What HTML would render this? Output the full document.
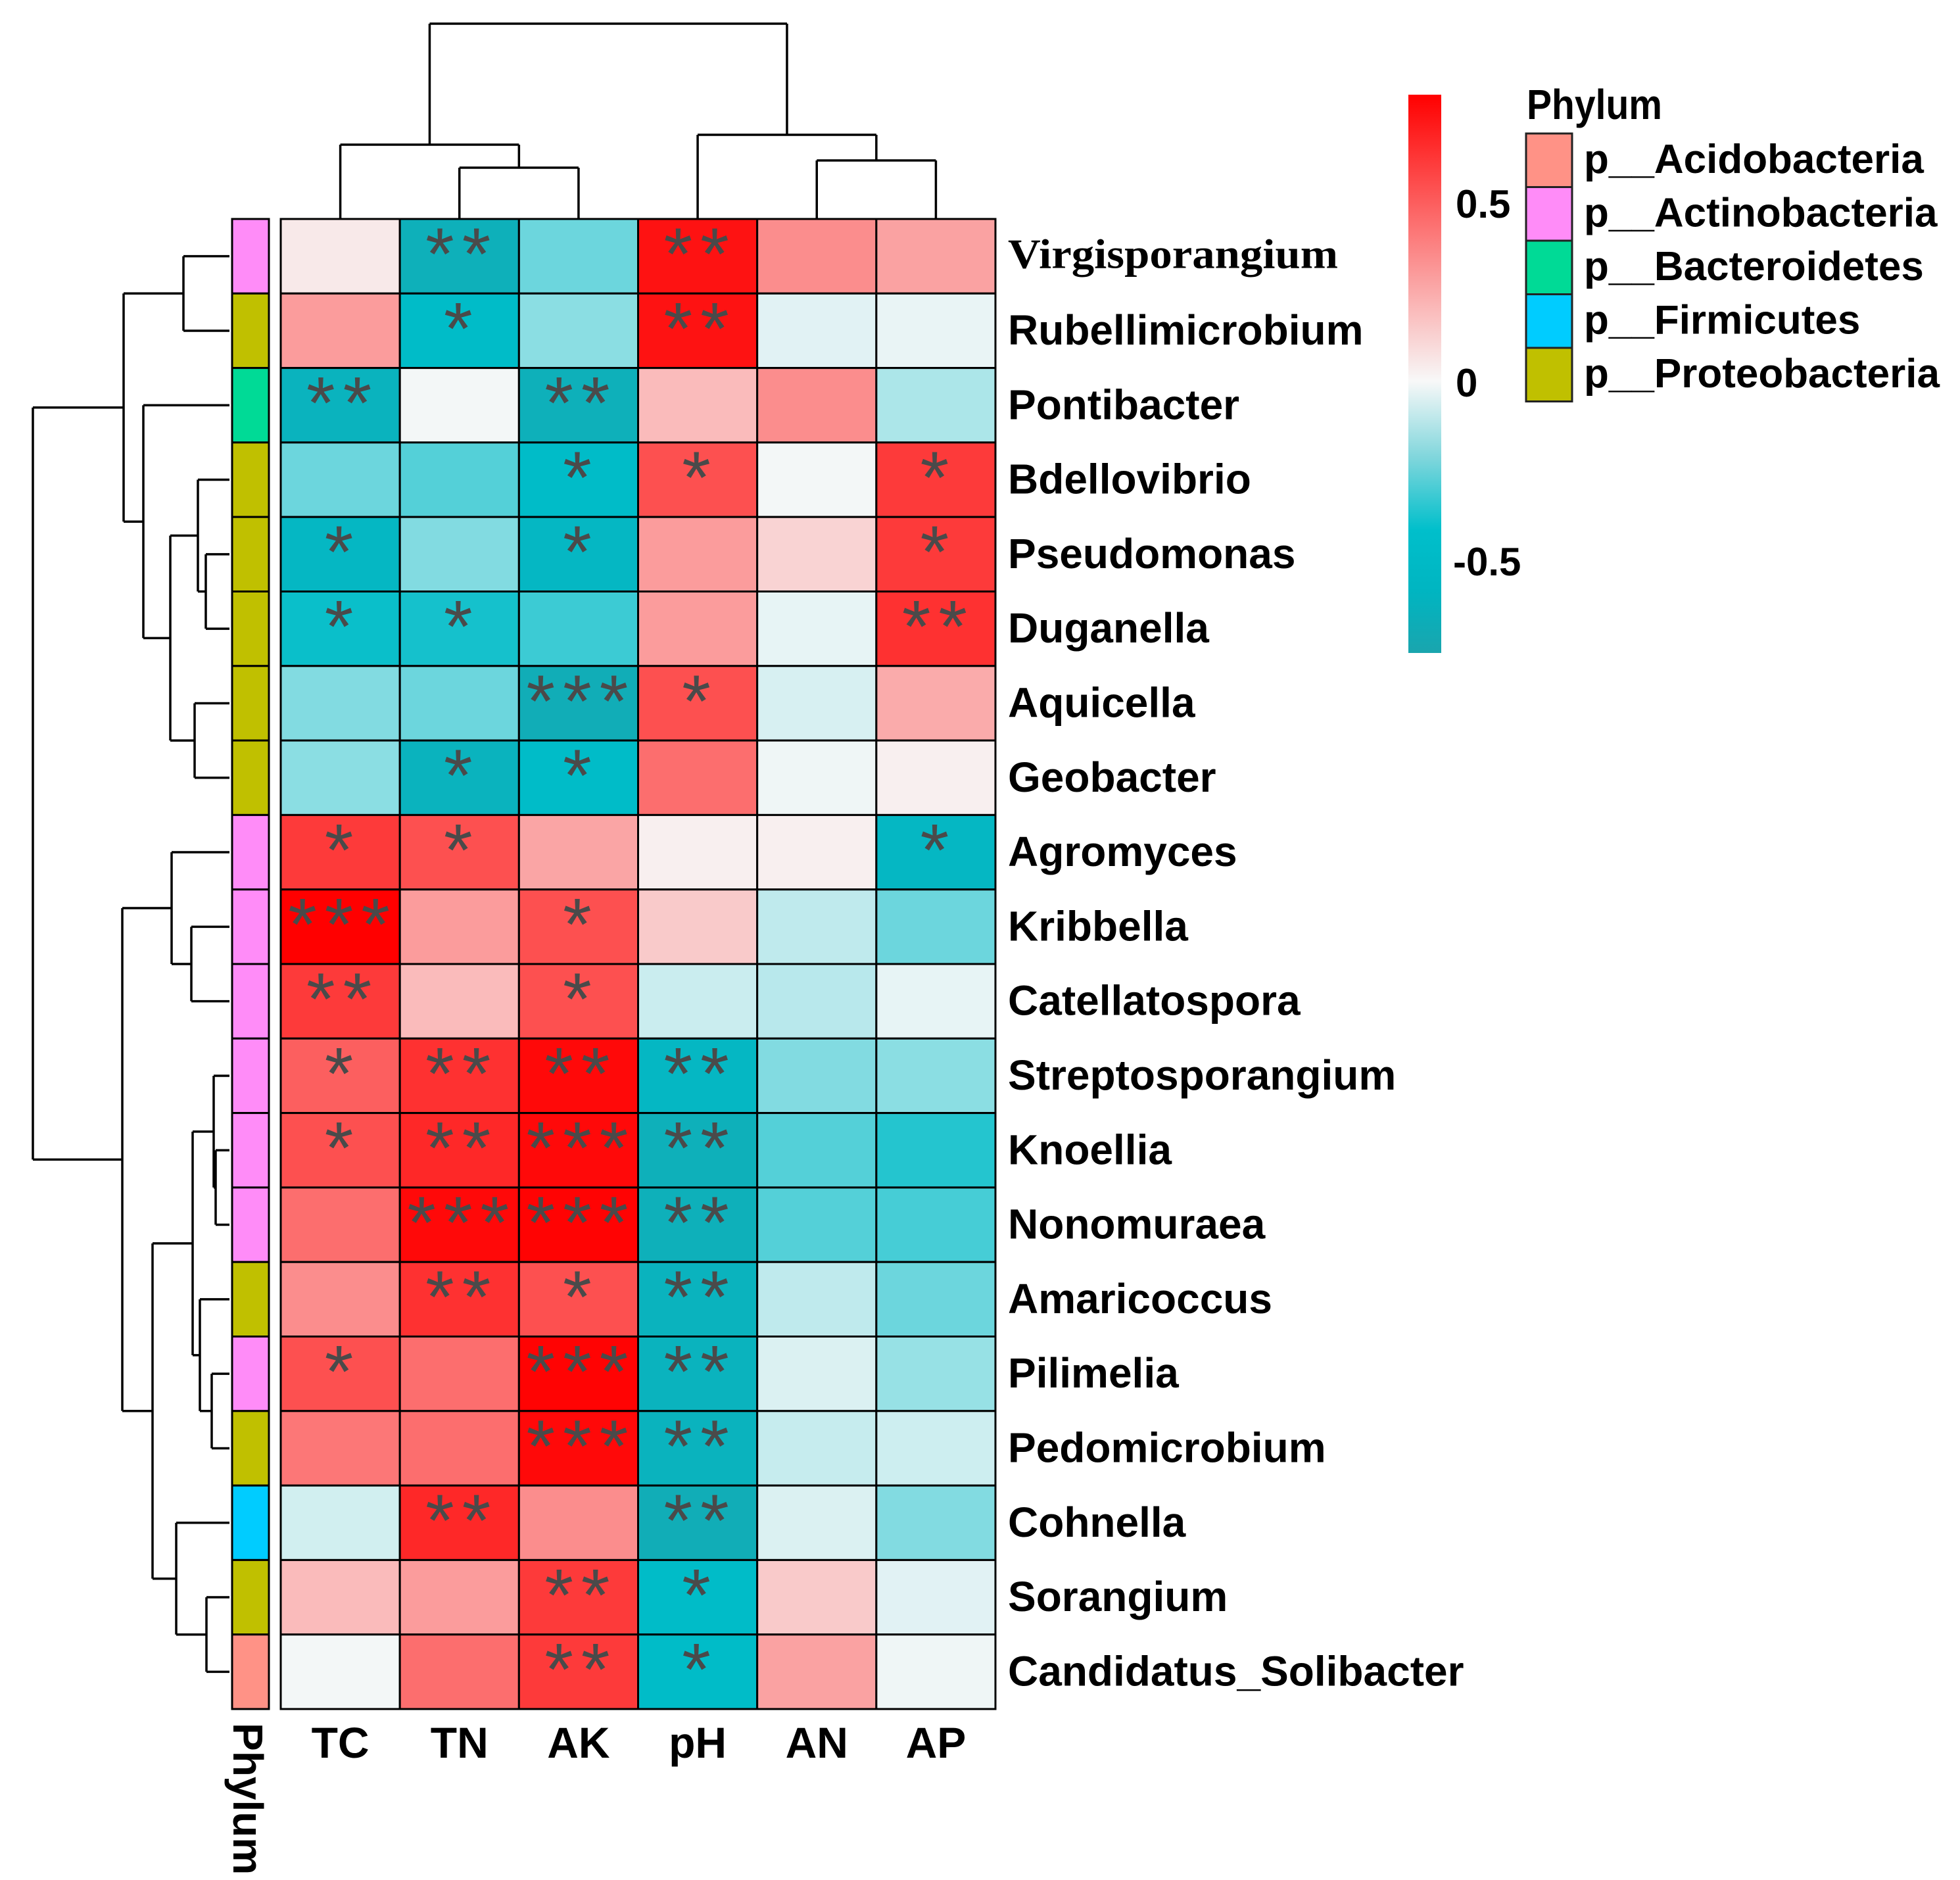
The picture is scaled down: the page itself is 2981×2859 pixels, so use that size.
<!DOCTYPE html>
<html><head><meta charset="utf-8"><style>
html,body{margin:0;padding:0;background:#fff;}
svg{display:block;}
text{font-family:"Liberation Sans",Arial,sans-serif;font-weight:bold;fill:#000;}
</style></head><body>
<svg id="chart" width="2981" height="2859" viewBox="0 0 2981 2859" xmlns="http://www.w3.org/2000/svg">
<defs>
<linearGradient id="cbar" x1="0" y1="1" x2="0" y2="0">
<stop offset="0" stop-color="#1AA5AE"/>
<stop offset="0.11" stop-color="#00B5C1"/>
<stop offset="0.22" stop-color="#00BFCB"/>
<stop offset="0.35" stop-color="#80D6DC"/>
<stop offset="0.487" stop-color="#F8F8F8"/>
<stop offset="1" stop-color="#FF0000"/>
</linearGradient>
</defs>
<g id="dendro-left"></g>
<g id="dendro-top"></g>
<g id="phylum-bar"></g>
<g id="cells"></g>
<g id="stars"></g>
<g id="rowlabels"></g>
<g id="collabels"></g>
<text transform="translate(355,2620) rotate(90)" font-size="64">Phylum</text>
<g>
<rect x="2142" y="144" width="50" height="849" fill="url(#cbar)"/>
<text x="2214" y="331" font-size="60">0.5</text>
<text x="2214" y="603" font-size="60">0</text>
<text x="2210" y="875" font-size="60">-0.5</text>
</g>
<g id="legend">
<text x="2322" y="181" font-size="64" textLength="206" lengthAdjust="spacingAndGlyphs">Phylum</text>
</g>
</svg>
<script>
const rowNames = ["Virgisporangium","Rubellimicrobium","Pontibacter","Bdellovibrio","Pseudomonas","Duganella","Aquicella","Geobacter","Agromyces","Kribbella","Catellatospora","Streptosporangium","Knoellia","Nonomuraea","Amaricoccus","Pilimelia","Pedomicrobium","Cohnella","Sorangium","Candidatus_Solibacter"];
const colNames = ["TC","TN","AK","pH","AN","AP"];
const rowPhylum = [1,4,2,4,4,4,4,4,1,1,1,1,1,1,4,1,4,3,4,0];
const phylumNames = ["p__Acidobacteria","p__Actinobacteria","p__Bacteroidetes","p__Firmicutes","p__Proteobacteria"];
const phylumColors = ["#FF9286","#FF8CF8","#00DA96","#00CCFF","#C0C000"];
const valTC = [0.05,0.3,-0.68,-0.4,-0.65,-0.6,-0.35,-0.33,0.62,0.81,0.62,0.5,0.55,0.45,0.35,0.55,0.42,-0.15,0.2,-0.03];
const valTN = [-0.7,-0.62,-0.03,-0.45,-0.35,-0.58,-0.4,-0.68,0.55,0.3,0.2,0.65,0.68,0.78,0.65,0.45,0.45,0.68,0.3,0.45];
const valAK = [-0.4,-0.33,-0.7,-0.62,-0.65,-0.5,-0.72,-0.62,0.27,0.55,0.55,0.78,0.78,0.8,0.55,0.8,0.78,0.35,0.62,0.62];
const valPH = [0.75,0.75,0.2,0.55,0.3,0.3,0.55,0.45,0.03,0.15,-0.17,-0.65,-0.7,-0.7,-0.68,-0.68,-0.68,-0.72,-0.62,-0.62];
const valAN = [0.35,-0.1,0.35,-0.03,0.12,-0.08,-0.13,-0.05,0.03,-0.2,-0.22,-0.35,-0.45,-0.45,-0.2,-0.12,-0.18,-0.12,0.15,0.28];
const valAP = [0.28,-0.07,-0.25,0.62,0.62,0.65,0.25,0.03,-0.65,-0.4,-0.08,-0.33,-0.55,-0.48,-0.4,-0.3,-0.16,-0.35,-0.1,-0.05];
const starTC = ["","","**","","*","*","","","*","***","**","*","*","","","*","","","",""];
const starTN = ["**","*","","","","*","","*","*","","","**","**","***","**","","","**","",""];
const starAK = ["","","**","*","*","","***","*","","*","*","**","***","***","*","***","***","","**","**"];
const starPH = ["**","**","","*","","","*","","","","","**","**","**","**","**","**","**","*","*"];
const starAN = ["","","","","","","","","","","","","","","","","","","",""];
const starAP = ["","","","*","*","**","","","*","","","","","","","","","","",""];

const values = [valTC,valTN,valAK,valPH,valAN,valAP];
const starsAll = [starTC,starTN,starAK,starPH,starAN,starAP];
const NS = "http://www.w3.org/2000/svg";
const X0 = 427, X1 = 1514, Y0 = 333, Y1 = 2599;
const cw = (X1 - X0) / colNames.length, rh = (Y1 - Y0) / rowNames.length;
const xCol = i => X0 + i * cw;
const yRow = j => Y0 + j * rh;
function mk(tag, attrs, parent){ const e=document.createElementNS(NS,tag); for(const k in attrs) e.setAttribute(k,attrs[k]); parent.appendChild(e); return e; }
function lerp(a,b,t){return a.map((v,i)=>Math.round(v+(b[i]-v)*t));}
function color(v){
  const W=[248,248,248], R=[255,0,0], C=[0,188,200], D=[26,165,174];
  let c;
  if (v >= 0) c = lerp(W,R,Math.min(v/0.81,1));
  else if (v >= -0.62) c = lerp(W,C,Math.pow(-v/0.62,1.3));
  else c = lerp(C,D,Math.min((-v-0.62)/0.15,1));
  return `rgb(${c[0]},${c[1]},${c[2]})`;
}
const gCells = document.getElementById('cells'), gStars = document.getElementById('stars');
for (let i=0;i<colNames.length;i++){
  for (let j=0;j<rowNames.length;j++){
    const r = mk('rect',{x:xCol(i),y:yRow(j),width:cw,height:rh,fill:color(values[i][j]),stroke:'#000','stroke-width':3},gCells);
    
    
    const s = starsAll[i][j];
    if (s){
      const t = mk('text',{x:xCol(i)+cw/2+4,y:yRow(j)+92,'font-size':112,'text-anchor':'middle','letter-spacing':12},gStars);
      
      
      t.style.fill='#4a4a4a'; t.style.fontWeight='normal';
      t.textContent = s;
    }
  }
}
const gPh = document.getElementById('phylum-bar');
for (let j=0;j<rowNames.length;j++){
  const r = mk('rect',{x:353,y:yRow(j),width:56,height:rh,fill:phylumColors[rowPhylum[j]],stroke:'#000','stroke-width':3},gPh);
  
  
}
const gRL = document.getElementById('rowlabels');
for (let j=0;j<rowNames.length;j++){
  const t = mk('text',{x:1533,y:yRow(j)+rh/2+21,'font-size':64},gRL);
  
  
  if (j===0){ t.style.fontFamily='"Liberation Serif",serif'; t.setAttribute('textLength',502); t.setAttribute('lengthAdjust','spacingAndGlyphs'); t.setAttribute('y',yRow(j)+rh/2+18); }
  t.textContent = rowNames[j];
}
const gCL = document.getElementById('collabels');
for (let i=0;i<colNames.length;i++){
  const t = mk('text',{x:xCol(i)+cw/2,y:2673,'font-size':66,'text-anchor':'middle'},gCL);
  
  
  t.textContent = colNames[i];
}
const gL = document.getElementById('legend');
for (let k=0;k<phylumNames.length;k++){
  const y = 203 + k*81.5;
  const r = mk('rect',{x:2321,y:y,width:70,height:81.5,fill:phylumColors[k],stroke:'#222','stroke-width':3},gL);
  
  
  const t = mk('text',{x:2409,y:y+60,'font-size':62},gL);
  
  
  t.textContent = phylumNames[k];
}
const leftTree = {h:50,c:[
  {h:188,c:[{h:279,c:[0,1]},{h:218,c:[2,{h:259,c:[{h:301,c:[3,{h:313,c:[4,5]}]},{h:296,c:[6,7]}]}]}]},
  {h:186,c:[{h:261,c:[8,{h:291,c:[9,10]}]},{h:232,c:[{h:293,c:[{h:325,c:[11,{h:328,c:[12,13]}]},{h:304,c:[14,{h:322,c:[15,16]}]}]},{h:268,c:[17,{h:314,c:[18,19]}]}]}]}
]};
const topTree = {h:36,c:[{h:220,c:[0,{h:255,c:[1,2]}]},{h:205,c:[3,{h:244,c:[4,5]}]}]};
function drawTree(node, g, leafPos, leafH, horiz){
  if (typeof node === 'number') return {p:leafPos(node), h:leafH};
  const ch = node.c.map(c=>drawTree(c,g,leafPos,leafH,horiz));
  const p = (ch[0].p + ch[1].p)/2;
  let d = '';
  for (const c of ch){
    d += horiz ? `M${node.h},${c.p}H${c.h}` : `M${c.p},${node.h}V${c.h}`;
  }
  d += horiz ? `M${node.h},${ch[0].p}V${ch[1].p}` : `M${ch[0].p},${node.h}H${ch[1].p}`;
  const path = mk('path',{d:d,fill:'none',stroke:'#000','stroke-width':3.5},g);
  
  
  return {p:p, h:node.h};
}
drawTree(leftTree, document.getElementById('dendro-left'), j=>yRow(j)+rh/2, 349, true);
drawTree(topTree, document.getElementById('dendro-top'), i=>xCol(i)+cw/2, 333, false);
</script>
</body></html>
